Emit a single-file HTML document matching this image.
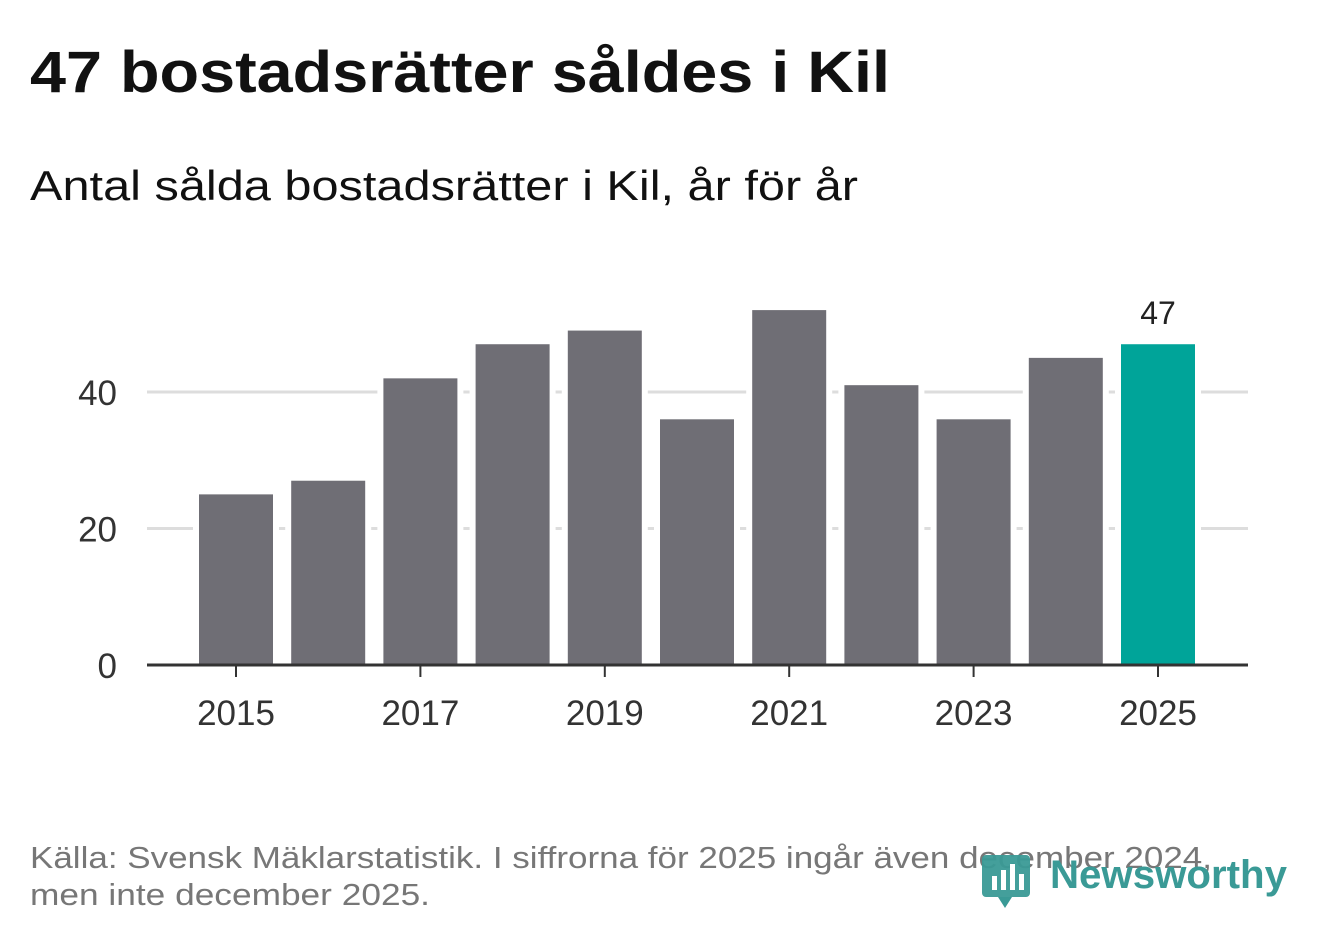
<!DOCTYPE html>
<html><head><meta charset="utf-8"><style>
body{margin:0;background:#fff;width:1322px;height:939px;overflow:hidden;font-family:"Liberation Sans",sans-serif}
</style></head><body>
<svg width="1322" height="939">
<text x="30" y="92" font-size="58" font-weight="bold" fill="#111" textLength="860" lengthAdjust="spacingAndGlyphs">47 bostadsrätter såldes i Kil</text>
<text x="30" y="200" font-size="42" fill="#111" textLength="828" lengthAdjust="spacingAndGlyphs">Antal sålda bostadsrätter i Kil, år för år</text>
<g id="plot"></g>
<text x="30" y="868" font-size="31" fill="#777" textLength="1182" lengthAdjust="spacingAndGlyphs">Källa: Svensk Mäklarstatistik. I siffrorna för 2025 ingår även december 2024,</text>
<text x="30" y="905" font-size="31" fill="#777" textLength="400" lengthAdjust="spacingAndGlyphs">men inte december 2025.</text>
<g>
<rect x="982" y="855" width="48" height="42" rx="4" fill="#3a9a96" opacity="0.95"/>
<polygon points="998,897 1012,897 1005,908" fill="#3a9a96"/>
<rect x="992" y="876" width="5" height="14" fill="#fff"/><rect x="1001" y="870" width="5" height="20" fill="#fff"/><rect x="1010" y="864" width="5" height="26" fill="#fff"/><rect x="1019" y="874" width="5" height="16" fill="#fff"/>
<text x="1050" y="888" font-size="40" font-weight="bold" fill="#3a9a96" textLength="237" lengthAdjust="spacingAndGlyphs">Newsworthy</text>
</g>
</svg>
<script>
const years=[2015,2016,2017,2018,2019,2020,2021,2022,2023,2024,2025];
const values=[25,27,42,47,49,36,52,41,36,45,47];
const yTicks=[0,20,40];
const xTickYears=[2015,2017,2019,2021,2023,2025];
const NS="http://www.w3.org/2000/svg";
const g=document.getElementById('plot');
const y=v=>665-v*6.825;
const x=yr=>236+(yr-2015)*92.2;
function mk(t,a){const e=document.createElementNS(NS,t);for(const k in a)e.setAttribute(k,a[k]);g.appendChild(e);return e;}
yTicks.forEach(t=>{
 if(t>0){const l=mk('line',{x1:147,x2:1248,y1:y(t),y2:y(t),stroke:'#ddd','stroke-width':3});
 
 }
 const tx=mk('text',{x:117,y:y(t)+13,'font-size':35,fill:'#333','text-anchor':'end'});tx.textContent=t;
 
 
});
years.forEach((yr,i)=>{
 const last=i===years.length-1;
 const r=mk('rect',{x:x(yr)-37,y:y(values[i]),width:74,height:665-y(values[i]),fill:last?'#00a499':'#6f6e75',stroke:'#fff','stroke-width':12,'paint-order':'stroke'});
 
 
});
const ax=mk('line',{x1:147,x2:1248,y1:665,y2:665,stroke:'#333','stroke-width':3});


xTickYears.forEach(yr=>{
 const tk=mk('line',{x1:x(yr),x2:x(yr),y1:665,y2:677,stroke:'#333','stroke-width':2});
 
 
 const tx=mk('text',{x:x(yr),y:725,'font-size':35,fill:'#333','text-anchor':'middle'});tx.textContent=yr;
 
 
});
const li=values.length-1;
const lb=mk('text',{x:x(years[li]),y:y(values[li])-20,'font-size':32,fill:'#222','text-anchor':'middle'});lb.textContent=values[li];


</script>
</body></html>
